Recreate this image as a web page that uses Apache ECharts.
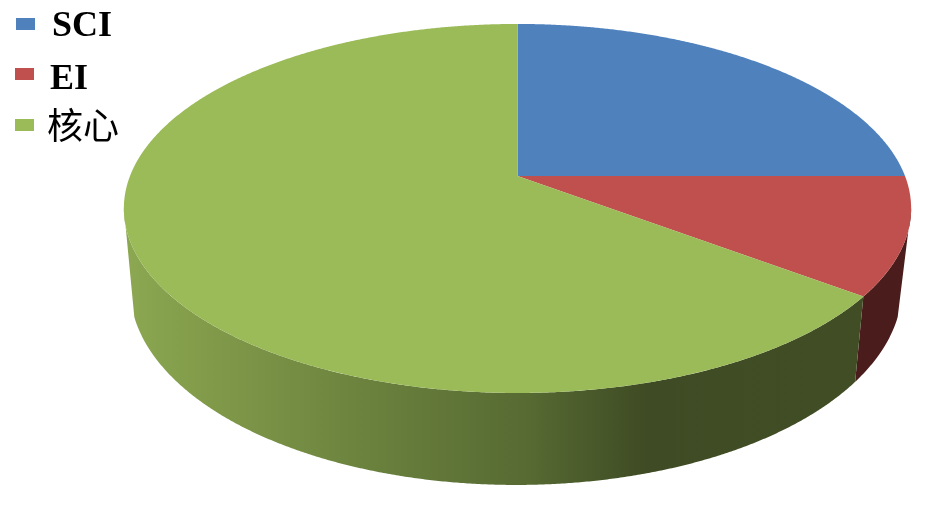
<!DOCTYPE html>
<html>
<head>
<meta charset="utf-8">
<style>html,body{margin:0;padding:0;background:#fff}#c{width:933px;height:514px}</style>
<script src="https://cdn.jsdelivr.net/npm/echarts@6/dist/echarts.min.js"></script>
</head>
<body>
<div id="c"></div>
<script>
var categories = ['SCI', 'EI', '核心'];
var values = [25, 10.3, 64.7];
var topColors = ['#4F81BD', '#C0504D', '#9BBB59'];

var total = values.reduce(function (a, b) { return a + b; }, 0);
var DEG = Math.PI / 180;

function topPoint(t) {
  var x = Math.cos(t), y = Math.sin(t), w = 1 - 0.176 * y;
  return [517.5 + 387.5 * x / w, 176 + 178.8 * y / w];
}
function bottomPoint(t) {
  var x = Math.cos(t), y = Math.sin(t), w = 1 - 0.176 * y;
  return [516 + 380 * x / w, 252.8 + 191.3 * y / w];
}
function arc(fn, a, b) {
  var n = Math.max(2, Math.ceil(Math.abs(b - a) / 0.005)), pts = [];
  for (var i = 0; i <= n; i++) pts.push(fn(a + (b - a) * i / n));
  return pts;
}
var greenWall = {
  type: 'linear', x: 124, y: 0, x2: 860, y2: 0, global: true,
  colorStops: [
    { offset: 0, color: '#8CA851' },
    { offset: 0.16, color: '#7C9547' },
    { offset: 0.38, color: '#667C3B' },
    { offset: 0.55, color: '#566A32' },
    { offset: 0.71, color: '#3F4B24' },
    { offset: 1, color: '#414E25' }
  ]
};
var wallFills = ['#2A3F5C', '#4A1C1B', greenWall];

function clampArc(a, b, lo, hi) {
  return [Math.max(a, lo), Math.min(b, hi)];
}

function makeRender(idx) {
  return function (params, api) {
    var before = 0;
    for (var i = 0; i < idx; i++) before += values[i];
    var a = -Math.PI / 2 + 2 * Math.PI * before / total;
    var b = a + 2 * Math.PI * api.value(0) / total;
    var children = [];
    var t = clampArc(a, b, 10 * DEG, 170 * DEG);
    var u = clampArc(a, b, 18.5 * DEG, 161.5 * DEG);
    if (t[1] > t[0]) {
      var wall = arc(topPoint, t[0], t[1]).concat(arc(bottomPoint, u[1], u[0]));
      children.push({ type: 'polygon', shape: { points: wall }, style: { fill: wallFills[idx] } });
    }
    var face = [[517.5, 176]].concat(arc(topPoint, a, b));
    children.push({ type: 'polygon', shape: { points: face }, style: { fill: topColors[idx] } });
    return { type: 'group', children: children };
  };
}

function legendOf(name, left, top, gap, font) {
  return {
    data: [name], left: left, top: top, padding: 0, itemGap: 0,
    itemWidth: 19, itemHeight: 12, icon: 'rect', selectedMode: false,
    formatter: '{a|{name}}',
    textStyle: {
      rich: {
        a: {
          color: '#000', fontSize: font.size, fontWeight: font.weight, fontFamily: font.family,
          height: 36, lineHeight: 36 + 2 * font.shift, verticalAlign: 'bottom',
          padding: [0, 0, 0, gap - 5]
        }
      }
    }
  };
}

var chart = echarts.init(document.getElementById('c'), null, { renderer: 'canvas' });
chart.setOption({
  animation: false,
  backgroundColor: '#fff',
  legend: [
    legendOf(categories[0], 16, 8.5, 17, { size: 36, weight: 'bold', family: '"Liberation Serif"', shift: 2.5 }),
    legendOf(categories[1], 15, 62, 16, { size: 36, weight: 'bold', family: '"Liberation Serif"', shift: 6 }),
    legendOf(categories[2], 15, 107, 13, { size: 36, weight: 'normal', family: '"Noto Sans CJK SC"', shift: 0 })
  ],
  series: categories.map(function (name, i) {
    return {
      type: 'custom', name: name, coordinateSystem: 'none',
      itemStyle: { color: topColors[i] },
      silent: true,
      renderItem: makeRender(i),
      data: [[values[i]]]
    };
  })
});
</script>
</body>
</html>
